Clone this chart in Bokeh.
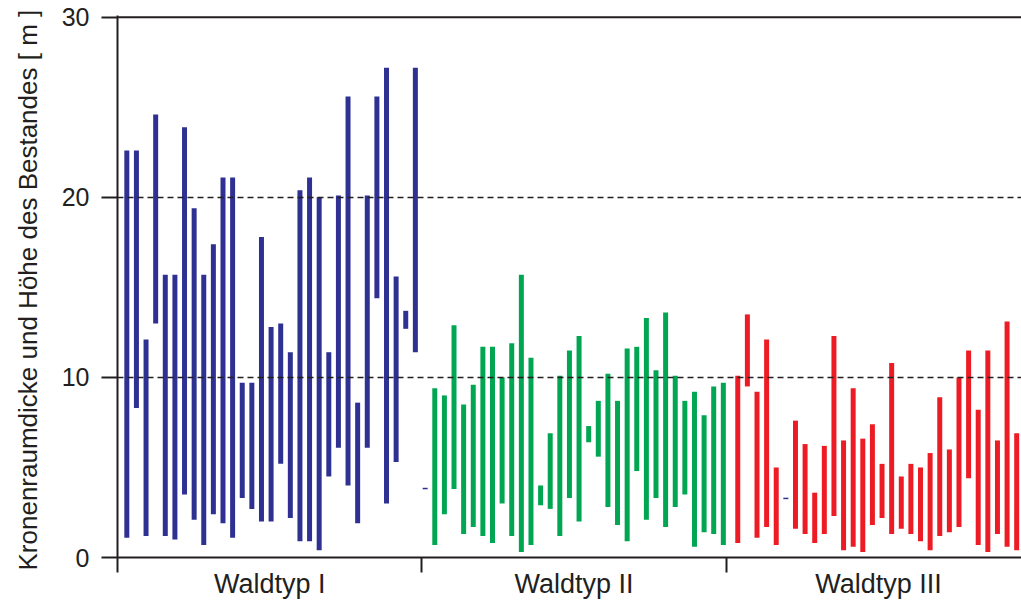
from bokeh.plotting import figure
from bokeh.models import FixedTicker, Range1d, Span
from bokeh.embed import file_html
from bokeh.resources import INLINE

# ---------------- data ----------------
groups = ["Waldtyp I", "Waldtyp II", "Waldtyp III"]

blue_top = [22.6, 22.6, 12.1, 24.6, 15.7, 15.7, 23.9, 19.4, 15.7, 17.4, 21.1,
            21.1, 9.7, 9.7, 17.8, 12.8, 13.0, 11.4, 20.4, 21.1, 20.0, 11.4,
            20.1, 25.6, 8.6, 20.1, 25.6, 27.2, 15.6, 13.7, 27.2]
blue_bottom = [1.1, 8.3, 1.2, 13.0, 1.2, 1.0, 3.5, 2.1, 0.7, 2.4, 1.9,
               1.1, 3.3, 2.7, 2.0, 2.0, 5.2, 2.2, 0.9, 0.9, 0.4, 4.5,
               6.1, 4.0, 1.9, 6.1, 14.4, 3.0, 5.3, 12.7, 11.4]

# first slot of group II holds a zero-length mark
green_top = [3.83, 9.4, 9.0, 12.9, 8.5, 9.6, 11.7, 11.7, 10.0, 11.9, 15.7,
             11.1, 4.0, 6.9, 10.1, 11.5, 12.3, 7.3, 8.7, 10.2, 8.7, 11.6,
             11.7, 13.3, 10.4, 13.6, 10.1, 8.7, 9.2, 7.9, 9.5, 9.7]
green_bottom = [3.83, 0.7, 2.4, 3.8, 1.3, 1.7, 1.2, 0.8, 3.0, 1.2, 0.3,
                0.7, 2.9, 2.7, 1.2, 3.3, 2.0, 6.4, 5.6, 2.8, 1.8, 0.9,
                4.8, 2.1, 3.3, 1.7, 2.8, 3.5, 0.6, 1.4, 1.3, 0.7]

red_top = [10.1, 13.5, 9.2, 12.1, 5.0, 3.28, 7.6, 6.3, 3.6, 6.2, 12.3, 6.5,
           9.4, 6.6, 7.4, 5.2, 10.8, 4.5, 5.2, 5.0, 5.8, 8.9, 6.0, 10.0,
           11.5, 8.2, 11.5, 6.5, 13.1, 6.9]
red_bottom = [0.8, 9.5, 1.1, 1.7, 0.7, 3.28, 1.6, 1.3, 0.8, 1.3, 2.3, 0.4,
              0.6, 0.3, 1.8, 2.2, 1.3, 1.6, 1.3, 0.9, 0.4, 1.2, 1.4, 1.7,
              4.4, 0.7, 0.3, 1.3, 0.6, 0.4]

y_ticks = [0, 10, 20, 30]
grid_levels = [10, 20]

colors = ["#2e3192", "#00a651", "#ed1c24"]
INK = "#231f20"
FONT = "Liberation Sans"

# ---------------- figure ----------------
p = figure(width=1021, height=601, output_backend="svg", toolbar_location=None,
           x_range=Range1d(0, 2.97), y_range=Range1d(0, 30.1),
           min_border_left=117, min_border_right=0, min_border_top=15,
           min_border_bottom=41)
p.outline_line_color = None
p.background_fill_color = "white"
p.border_fill_color = "white"

step = 0.0316
bar_w = 0.0164
starts = [0.0306, 1.0108, 2.0378]
series = [(blue_top, blue_bottom), (green_top, green_bottom), (red_top, red_bottom)]

for (tops, bots), start, col in zip(series, starts, colors):
    xs = [start + i * step for i in range(len(tops))]
    bx = [x for x, t, b in zip(xs, tops, bots) if t > b]
    bt = [t for t, b in zip(tops, bots) if t > b]
    bb = [b for t, b in zip(tops, bots) if t > b]
    p.vbar(x=bx, top=bt, bottom=bb, width=bar_w, fill_color=col, line_color=None)
    # zero-length marks drawn as short dashes
    zx = [x for x, t, b in zip(xs, tops, bots) if t == b]
    zy = [t for t, b in zip(tops, bots) if t == b]
    if zx:
        p.segment(x0=[x - bar_w / 2 for x in zx], x1=[x + bar_w / 2 for x in zx],
                  y0=zy, y1=zy, line_color=colors[0], line_width=1.5)

# top frame line
p.add_layout(Span(location=30, dimension="width", line_color=INK, line_width=2))

# grid
p.xgrid.visible = False
p.ygrid.ticker = FixedTicker(ticks=grid_levels)
p.ygrid.grid_line_color = INK
p.ygrid.grid_line_dash = "6 4"
p.ygrid.grid_line_width = 1.4
p.ygrid.level = "overlay"

# y axis
ya = p.yaxis[0]
ya.ticker = FixedTicker(ticks=y_ticks)
ya.axis_label = "Kronenraumdicke und Höhe des Bestandes [ m ]" + "\u00a0"
ya.axis_label_text_font = FONT
ya.axis_label_text_font_size = "26px"
ya.axis_label_text_font_style = "normal"
ya.axis_label_text_color = INK
ya.axis_label_standoff = 16
ya.major_label_text_font = FONT
ya.major_label_text_font_size = "25px"
ya.major_label_text_color = INK
ya.major_label_standoff = 12
ya.major_tick_out = 16
ya.major_tick_in = 0
ya.minor_tick_line_color = None
ya.axis_line_width = 2
ya.axis_line_color = INK
ya.major_tick_line_width = 2
ya.major_tick_line_color = INK

# x axis
xa = p.xaxis[0]
xa.ticker = FixedTicker(ticks=[0.5, 1.5, 2.5], minor_ticks=[0, 1, 2])
xa.major_label_overrides = {0.5: groups[0], 1.5: groups[1], 2.5: groups[2]}
xa.major_label_text_font = FONT
xa.major_label_text_font_size = "27px"
xa.major_label_text_color = INK
xa.major_label_standoff = -4
xa.major_tick_line_color = None
xa.major_tick_out = 0
xa.major_tick_in = 0
xa.minor_tick_out = 15
xa.minor_tick_in = 0
xa.minor_tick_line_width = 2
xa.minor_tick_line_color = INK
xa.axis_line_width = 2
xa.axis_line_color = INK

open("out.html", "w").write(file_html(p, INLINE))
